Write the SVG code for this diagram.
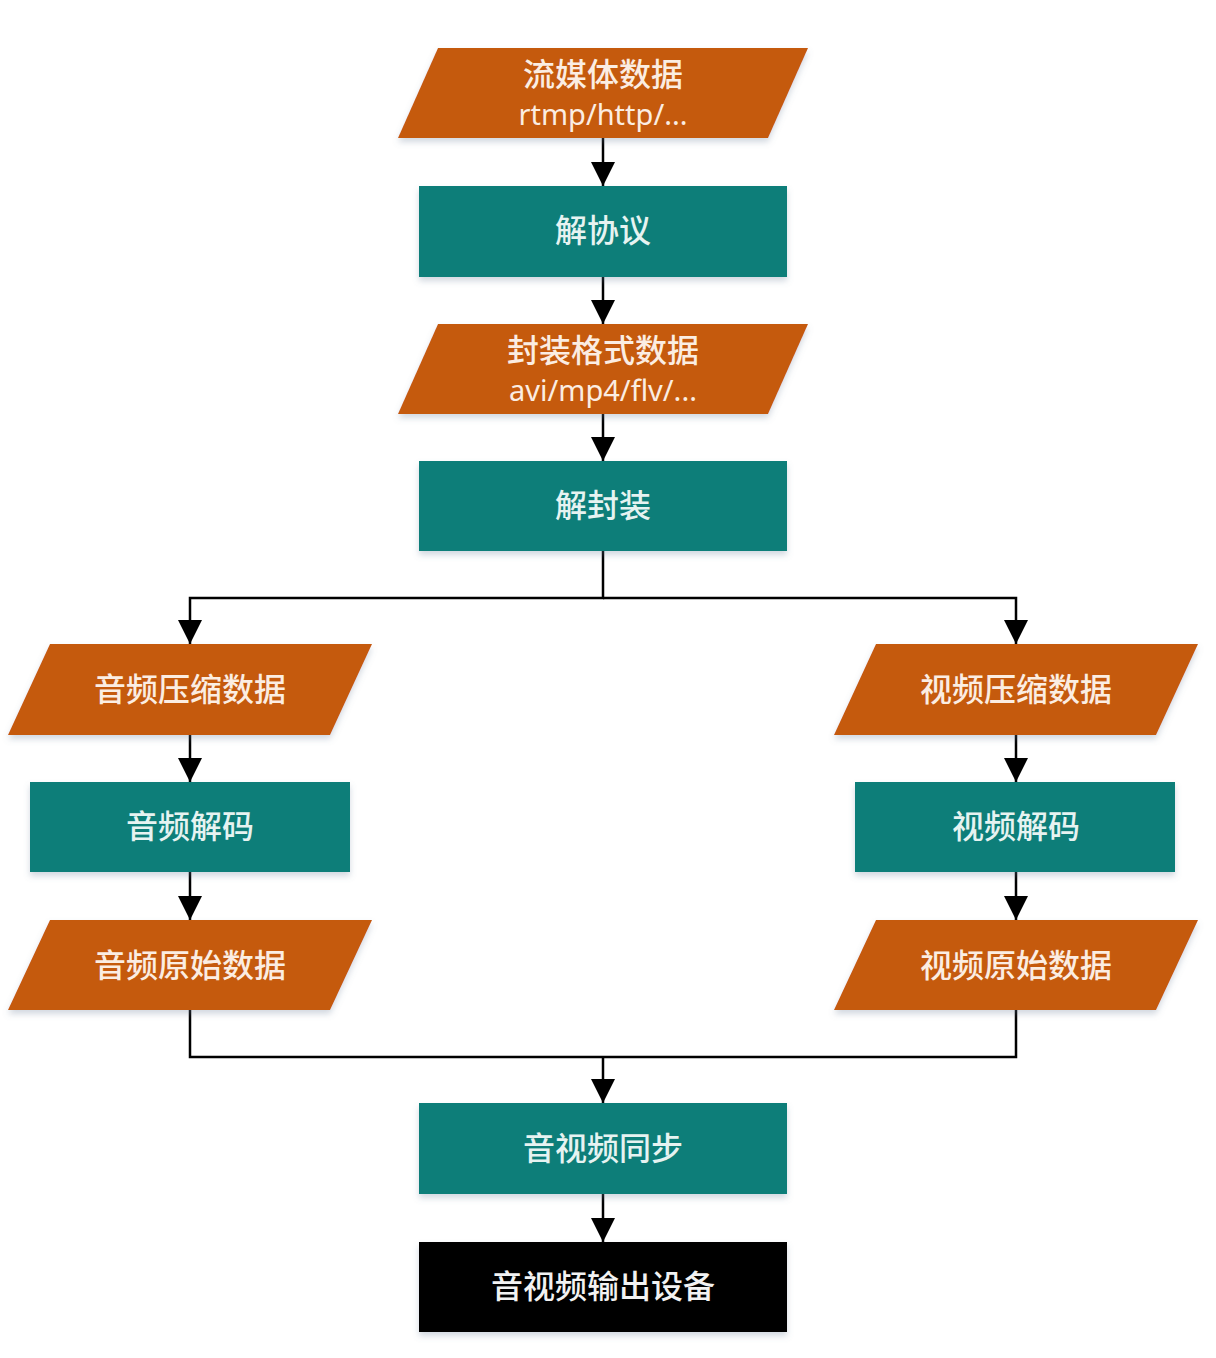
<svg xmlns="http://www.w3.org/2000/svg" width="1216" height="1358" viewBox="0 0 1216 1358">
<defs>
<marker id="arr" markerUnits="userSpaceOnUse" markerWidth="24" markerHeight="26" viewBox="0 0 24 26" refX="24" refY="12" orient="auto">
<path d="M0,0 L24,12 L0,24 Z" fill="#000"/>
</marker>
<filter id="sh" x="-10%" y="-20%" width="120%" height="150%">
<feDropShadow dx="0" dy="4" stdDeviation="3" flood-color="#6a7f99" flood-opacity="0.3"/>
</filter>
<style>
.io{fill:#C55A11;filter:url(#sh);}
.pr{fill:#0A7E79;filter:url(#sh);}
.dv{fill:#000;filter:url(#sh);}
.t{font-family:"Noto Sans CJK SC","Noto Sans",sans-serif;font-size:32px;font-weight:500;text-anchor:middle;}
.to{fill:#FBEDE2;}
.tt{fill:#E6F3F1;}
.tb{fill:#F2F2F2;}
.l{font-family:"Noto Sans","Open Sans",sans-serif;font-size:29px;font-weight:400;}
.c{fill:none;stroke:#000;stroke-width:2.5;}
</style>
</defs>
<rect width="1216" height="1358" fill="#fff"/>
<g id="connectors">
<path class="c" d="M603 138 V186" marker-end="url(#arr)"/>
<path class="c" d="M603 277 V324" marker-end="url(#arr)"/>
<path class="c" d="M603 414 V461" marker-end="url(#arr)"/>
<path class="c" d="M603 551 V598 H190 V644" marker-end="url(#arr)"/>
<path class="c" d="M603 598 H1016 V644" marker-end="url(#arr)"/>
<path class="c" d="M190 735 V782" marker-end="url(#arr)"/>
<path class="c" d="M190 872 V920" marker-end="url(#arr)"/>
<path class="c" d="M1016 735 V782" marker-end="url(#arr)"/>
<path class="c" d="M1016 872 V920" marker-end="url(#arr)"/>
<path class="c" d="M190 1010 V1057 H1016 V1010"/>
<path class="c" d="M603 1057 V1103" marker-end="url(#arr)"/>
<path class="c" d="M603 1194 V1242" marker-end="url(#arr)"/>
</g>
<g id="n1">
<polygon class="io" points="438,48 808,48 768,138 398,138"/>
<text class="t to" x="603" y="86">流媒体数据</text>
<text class="t to l" x="603" y="125">rtmp/http/...</text>
</g>
<g id="n2">
<rect class="pr" x="419" y="186" width="368" height="91"/>
<text class="t tt" x="603" y="242">解协议</text>
</g>
<g id="n3">
<polygon class="io" points="438,324 808,324 768,414 398,414"/>
<text class="t to" x="603" y="362">封装格式数据</text>
<text class="t to l" x="603" y="401">avi/mp4/flv/...</text>
</g>
<g id="n4">
<rect class="pr" x="419" y="461" width="368" height="90"/>
<text class="t tt" x="603" y="517">解封装</text>
</g>
<g id="n5">
<polygon class="io" points="50,644 372,644 330,735 8,735"/>
<text class="t to" x="190" y="701">音频压缩数据</text>
</g>
<g id="n6">
<rect class="pr" x="30" y="782" width="320" height="90"/>
<text class="t tt" x="190" y="838">音频解码</text>
</g>
<g id="n7">
<polygon class="io" points="50,920 372,920 330,1010 8,1010"/>
<text class="t to" x="190" y="977">音频原始数据</text>
</g>
<g id="n8">
<polygon class="io" points="876,644 1198,644 1156,735 834,735"/>
<text class="t to" x="1016" y="701">视频压缩数据</text>
</g>
<g id="n9">
<rect class="pr" x="855" y="782" width="320" height="90"/>
<text class="t tt" x="1016" y="838">视频解码</text>
</g>
<g id="n10">
<polygon class="io" points="876,920 1198,920 1156,1010 834,1010"/>
<text class="t to" x="1016" y="977">视频原始数据</text>
</g>
<g id="n11">
<rect class="pr" x="419" y="1103" width="368" height="91"/>
<text class="t tt" x="603" y="1160">音视频同步</text>
</g>
<g id="n12">
<rect class="dv" x="419" y="1242" width="368" height="90"/>
<text class="t tb" x="603" y="1298">音视频输出设备</text>
</g>
</svg>
